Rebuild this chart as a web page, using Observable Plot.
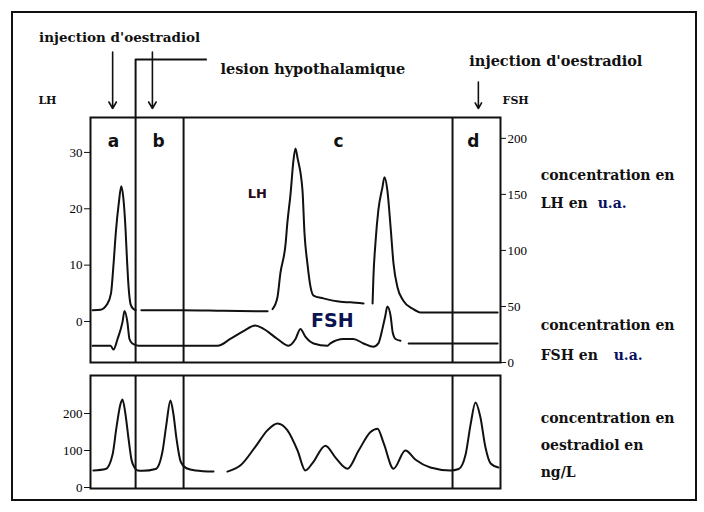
<!DOCTYPE html>
<html><head><meta charset="utf-8">
<script src="https://cdn.jsdelivr.net/npm/d3@7"></script>
<script src="https://cdn.jsdelivr.net/npm/@observablehq/plot@0.6"></script>
<style>
body{margin:0;background:#fff;}
#fig{position:relative;width:704px;height:512px;background:#fff;overflow:hidden;}
#border{position:absolute;left:11px;top:11px;width:686px;height:490px;box-sizing:border-box;border:2px solid #111;pointer-events:none;}
#upper,#lower{position:absolute;left:0;}
#upper{top:0}
#lower{top:368px}
</style></head><body>
<div id="fig"><div id="upper"></div><div id="lower"></div><div id="border"></div></div>
<script>
// ---- data (time in arbitrary units, 0–100) ----
const lhTime  = [0.5,2.5,4.0,5.0,5.6,6.2,6.9,7.5,8.0,8.5,8.9,9.3,9.8,10.5,11.0, 11.7, 12.4,22.0,32.4,43.2, 43.8, 44.4,45.6,46.3,47.6,48.0,48.8,49.5,50.0,50.5,51.7,52.2,52.9,53.7,54.4,56.8,61.0,63.4,66.6, 67.6, 68.8,69.0,69.5,70.2,71.2,71.7,72.4,73.2,73.9,74.9,76.3,78.5,80.5,99.3];
const lhValue = [2.0,2.1,3.0,5.0,10,16,21,24,22,17,11,6,3,2.2,2.0, null, 2.0,2.0,1.9,1.8, null, 2.2,4.3,8.5,13.9,17.4,22.7,28.6,30.7,29.0,23.3,15.6,10.3,6.0,4.6,4.1,3.5,3.4,3.2, null, 3.2,7.8,13.9,19.7,23.8,25.6,23.3,16.7,10.3,6.0,3.7,2.3,1.6,1.6];

const fshTime  = [0.5,4.9,5.6,6.6,7.8,8.3,9.0,9.5,10.2,11.7,22.0,31.0,34.1,37.3,40.2,42.2,45.6,48.3,50.0,51.2,52.4,54.4,57.8,58.5,61.7,64.1,66.6,69.0,70.2,71.2,71.9,72.4,73.2,73.7,74.4,75.6, 76.5, 77.6,99.3];
const fshValue = [15,15,11.5,21,36,46,36,21,17,15,15,15,21,28,33,30,21,15,21,30,23,17,15,17,21,21,17,14,17,30,41.5,50,41.5,27,21,19.5, null, 17,17];

const e2Time  = [0.7,3.7,5.4,6.3,7.3,7.8,8.5,9.3,10.0,10.7,11.5,12.7,15.9,17.6,18.5,19.5,20.2,21.0,22.0,23.4,25.6,30.0, 31.5, 33.4,36.6,40.2,43.2,45.6,48.0,50.5,52.4,54.1,57.3,59.8,62.7,65.4,68.3,70.0,71.5,73.9,76.8,79.3,82.9,87.8,89.8,91.5,92.7,93.9,95.1,96.3,97.6,99.5];
const e2Value = [46,50,90,160,225,238,200,130,75,55,46,45,50,100,170,235,200,130,70,52,46,43, null, 43,60,110,155,173,155,100,46,65,113,80,51,100,150,159,120,51,100,75,54,46,50,90,170,230,190,110,65,54];

const phaseBounds = [11.0, 22.7, 88.3];
const phaseNames  = ["a","b","c","d"];
const phaseCenters = [5.6, 16.6, 60.5, 93.4];
const lhTicks  = [0,10,20,30];
const fshTicks = [0,50,100,150,200];
const e2Ticks  = [0,100,200];

// ---- tables ----
const lh  = lhTime.map((t,i)=>({t, v: lhValue[i]}));
const fshToLH = d3.scaleLinear([0,200],[-7.28,32.5]);
const fsh = fshTime.map((t,i)=>({t, v: fshValue[i] == null ? null : fshToLH(fshValue[i])}));
const e2  = e2Time.map((t,i)=>({t, v: e2Value[i]}));
const phases = phaseNames.map((n,i)=>({n, t: phaseCenters[i]}));

const common = {fontFamily: "DejaVu Serif", fontWeight: "bold", fill: "#111"};
const ua = {fontFamily: "DejaVu Serif", fontWeight: "bold", fontSize: 14, fill: "#0a1060", textAnchor: "start"};

const upperPlot = Plot.plot({
  width: 704, height: 368,
  marginLeft: 90, marginRight: 204, marginTop: 117, marginBottom: 6,
  style: {background: "transparent", fontFamily: "Liberation Serif", fontSize: "13px", overflow: "visible"},
  x: {domain: [0,100], axis: null},
  y: {domain: [-7.28, 36.2], axis: null},
  marks: [
    Plot.frame({stroke: "#111", strokeWidth: 2}),
    Plot.ruleX([phaseBounds[0]], {y1: -7.28, y2: 46.5, stroke: "#111", strokeWidth: 2}),
    Plot.ruleX(phaseBounds.slice(1), {stroke: "#111", strokeWidth: 2}),
    Plot.ruleY([46.5], {x1: phaseBounds[0], x2: 28.5, stroke: "#111", strokeWidth: 2}),
    Plot.axisY(lhTicks, {anchor: "left", label: null, tickSize: 6, tickPadding: 2, stroke: "#111"}),
    Plot.axisY(fshTicks.map(fshToLH), {anchor: "right", label: null, tickSize: 5, tickPadding: 2, tickFormat: d => Math.round(fshToLH.invert(d)), stroke: "#111"}),
    Plot.line(lh, {x: "t", y: "v", stroke: "#111", strokeWidth: 2, curve: "monotone-x"}),
    Plot.line(fsh, {x: "t", y: "v", stroke: "#111", strokeWidth: 2, curve: "monotone-x"}),
    Plot.text(phases, {x: "t", frameAnchor: "top", dy: 17, text: "n", fontFamily: "DejaVu Sans", fontWeight: "bold", fontSize: 17, fill: "#111"}),
    Plot.text(["LH"], {x: 40.7, y: 22.6, fontFamily: "DejaVu Sans", fontWeight: "bold", fontSize: 13, fill: "#2a0818"}),
    Plot.text(["FSH"], {x: 59.0, y: 0.1, fontFamily: "DejaVu Sans", fontWeight: "bold", fontSize: 19, fill: "#0a1450"}),
    // annotations
    Plot.text(["injection d'oestradiol"], {x: 7.1, y: 50.4, ...common, fontSize: 13.5}),
    Plot.arrow([{}], {x1: 5.4, y1: 47.8, x2: 5.4, y2: 37.8, stroke: "#111", strokeWidth: 1.6, headLength: 7}),
    Plot.arrow([{}], {x1: 15.1, y1: 47.8, x2: 15.1, y2: 37.8, stroke: "#111", strokeWidth: 1.6, headLength: 7}),
    Plot.text(["lesion hypothalamique"], {x: 31.7, y: 44.8, textAnchor: "start", ...common, fontSize: 14.5}),
    Plot.text(["injection d'oestradiol"], {x: 92.4, y: 46.2, textAnchor: "start", ...common, fontSize: 14.5}),
    Plot.arrow([{}], {x1: 94.6, y1: 42.5, x2: 94.6, y2: 37.8, stroke: "#111", strokeWidth: 1.6, headLength: 6}),
    Plot.text(["LH"], {x: -10.5, y: 39.3, ...common, fontSize: 11}),
    Plot.text(["FSH"], {x: 103.7, y: 39.3, ...common, fontSize: 11}),
    Plot.text(["concentration en"], {x: 109.8, y: 25.9, textAnchor: "start", ...common, fontSize: 14}),
    Plot.text(["LH en"], {x: 109.8, y: 21.0, textAnchor: "start", ...common, fontSize: 14}),
    Plot.text(["u.a."], {x: 123.7, y: 21.0, ...ua}),
    Plot.text(["concentration en"], {x: 109.8, y: -0.7, textAnchor: "start", ...common, fontSize: 14}),
    Plot.text(["FSH en"], {x: 109.8, y: -6.0, textAnchor: "start", ...common, fontSize: 14}),
    Plot.text(["u.a."], {x: 127.6, y: -6.0, ...ua})
  ]
});
document.getElementById("upper").append(upperPlot);

const lowerPlot = Plot.plot({
  width: 704, height: 144,
  marginLeft: 90, marginRight: 204, marginTop: 7, marginBottom: 24,
  style: {background: "transparent", fontFamily: "Liberation Serif", fontSize: "13px", overflow: "visible"},
  x: {domain: [0,100], axis: null},
  y: {domain: [-2.7, 302.7], axis: null},
  marks: [
    Plot.frame({stroke: "#111", strokeWidth: 2}),
    Plot.ruleX(phaseBounds, {stroke: "#111", strokeWidth: 2}),
    Plot.axisY(e2Ticks, {anchor: "left", label: null, tickSize: 6, tickPadding: 2, stroke: "#111"}),
    Plot.line(e2, {x: "t", y: "v", stroke: "#111", strokeWidth: 2, curve: "monotone-x"}),
    Plot.text(["concentration en"], {x: 109.8, y: 186, textAnchor: "start", ...common, fontSize: 14}),
    Plot.text(["oestradiol en"], {x: 109.8, y: 114, textAnchor: "start", ...common, fontSize: 14}),
    Plot.text(["ng/L"], {x: 109.8, y: 41, textAnchor: "start", ...common, fontSize: 14})
  ]
});
document.getElementById("lower").append(lowerPlot);
</script>
</body></html>
